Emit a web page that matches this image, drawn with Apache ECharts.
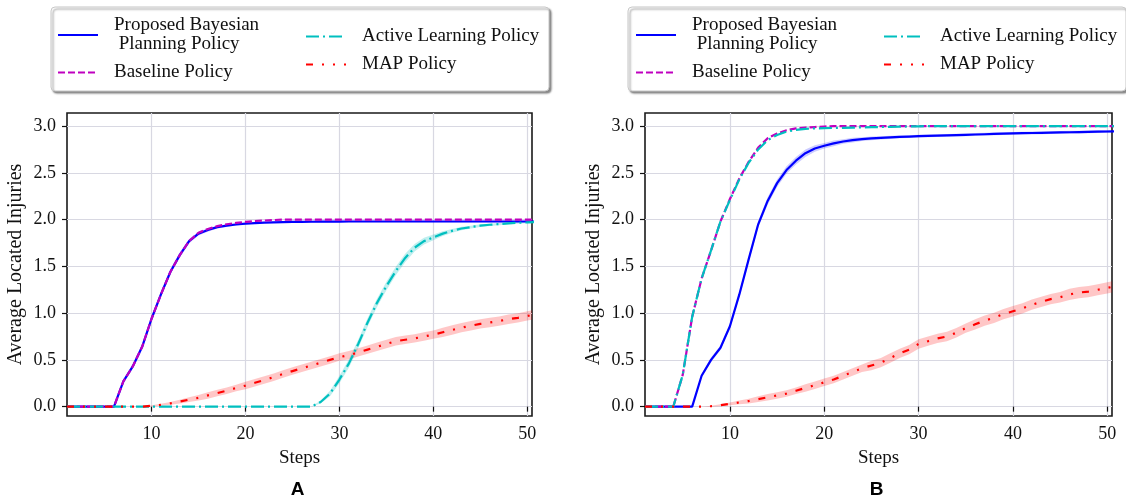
<!DOCTYPE html>
<html><head><meta charset="utf-8">
<script src="https://cdn.jsdelivr.net/npm/echarts@6/dist/echarts.min.js"></script>
<style>html,body{margin:0;padding:0;background:#fff}#c{width:1126px;height:502px}</style>
</head><body><div id="c"></div>
<script>
const steps = [1,2,3,4,5,6,7,8,9,10,11,12,13,14,15,16,17,18,19,20,21,22,23,24,25,26,27,28,29,30,31,32,33,34,35,36,37,38,39,40,41,42,43,44,45,46,47,48,49,50,51];
const xTicks = [10,20,30,40,50];
const yTicks = [0,0.5,1,1.5,2,2.5,3];
const seriesNames = ['Proposed Bayesian Planning Policy','Baseline Policy','Active Learning Policy','MAP Policy'];
const panelLabels = ['A','B'];

// Panel A
const aProposed = [0,0,0,0,0,0,0.27,0.43,0.64,0.94,1.2,1.44,1.62,1.77,1.85,1.89,1.92,1.935,1.948,1.957,1.963,1.968,1.971,1.973,1.975,1.976,1.977,1.978,1.978,1.979,1.98,1.98,1.98,1.98,1.98,1.98,1.98,1.98,1.98,1.98,1.98,1.98,1.98,1.98,1.98,1.98,1.98,1.98,1.98,1.98,1.98];
const aBaseline = [0,0,0,0,0,0,0.27,0.43,0.64,0.94,1.2,1.44,1.62,1.77,1.86,1.9,1.93,1.95,1.965,1.976,1.985,1.99,1.995,2,2,2,2,2,2,2,2,2,2,2,2,2,2,2,2,2,2,2,2,2,2,2,2,2,2,2,2];
const aActive = [0,0,0,0,0,0,0,0,0,0,0,0,0,0,0,0,0,0,0,0,0,0,0,0,0,0,0,0.05,0.14,0.29,0.46,0.67,0.9,1.11,1.29,1.45,1.59,1.7,1.77,1.81,1.85,1.88,1.905,1.92,1.935,1.945,1.953,1.96,1.966,1.97,1.973];
const aMap = [0,0,0,0,0,0,0,0,0,0.01,0.02,0.035,0.055,0.075,0.095,0.12,0.145,0.17,0.2,0.225,0.255,0.285,0.315,0.35,0.38,0.41,0.44,0.47,0.5,0.53,0.55,0.58,0.61,0.64,0.67,0.7,0.715,0.73,0.75,0.77,0.795,0.82,0.845,0.865,0.885,0.9,0.915,0.935,0.95,0.97,0.99];
const aProposedBand = [0,0,0,0,0,0,0.02,0.025,0.03,0.03,0.03,0.03,0.03,0.025,0.02,0.02,0.015,0.015,0.012,0.01,0.008,0.008,0.008,0.008,0.008,0.008,0.008,0.008,0.008,0.008,0.008,0.008,0.008,0.008,0.008,0.008,0.008,0.008,0.008,0.008,0.008,0.008,0.008,0.008,0.008,0.008,0.008,0.008,0.008,0.008,0.008];
const aActiveBand = [0,0,0,0,0,0,0,0,0,0,0,0,0,0,0,0,0,0,0,0,0,0,0,0,0,0,0,0.015,0.03,0.04,0.045,0.045,0.045,0.045,0.045,0.045,0.045,0.04,0.035,0.03,0.025,0.02,0.02,0.015,0.015,0.012,0.012,0.01,0.01,0.01,0.01];
const aMapBand = [0,0,0,0,0,0,0,0,0,0.005,0.01,0.015,0.02,0.025,0.03,0.035,0.035,0.035,0.035,0.04,0.04,0.04,0.04,0.04,0.04,0.04,0.04,0.04,0.04,0.04,0.045,0.045,0.045,0.045,0.045,0.045,0.045,0.045,0.045,0.045,0.05,0.05,0.05,0.05,0.05,0.05,0.05,0.05,0.05,0.05,0.05];

// Panel B
const bProposed = [0,0,0,0,0,0,0.33,0.5,0.63,0.86,1.2,1.58,1.95,2.2,2.39,2.53,2.63,2.71,2.76,2.79,2.815,2.835,2.85,2.86,2.868,2.874,2.879,2.884,2.888,2.892,2.895,2.898,2.901,2.904,2.907,2.91,2.913,2.916,2.919,2.922,2.924,2.926,2.928,2.93,2.932,2.934,2.936,2.938,2.94,2.942,2.944];
const bBaseline = [0,0,0,0,0.34,0.96,1.37,1.67,1.98,2.22,2.44,2.62,2.77,2.87,2.92,2.955,2.975,2.985,2.99,2.995,3,3,3,3,3,3,3,3,3,3,3,3,3,3,3,3,3,3,3,3,3,3,3,3,3,3,3,3,3,3,3];
const bActive = [0,0,0,0,0.34,0.96,1.37,1.67,1.98,2.21,2.43,2.61,2.75,2.85,2.905,2.94,2.96,2.97,2.975,2.978,2.98,2.982,2.984,2.986,2.988,2.99,2.992,2.994,2.996,2.998,3,3,3,3,3,3,3,3,3,3,3,3,3,3,3,3,3,3,3,3,3];
const bMap = [0,0,0,0,0,0,0,0.005,0.015,0.03,0.045,0.06,0.08,0.1,0.12,0.14,0.17,0.2,0.23,0.26,0.29,0.33,0.37,0.41,0.44,0.47,0.52,0.57,0.61,0.67,0.7,0.73,0.75,0.79,0.84,0.88,0.92,0.95,0.99,1.02,1.05,1.09,1.12,1.15,1.17,1.2,1.22,1.23,1.25,1.27,1.29];
const bProposedBand = [0,0,0,0,0,0,0.02,0.025,0.025,0.025,0.03,0.03,0.035,0.04,0.04,0.04,0.04,0.04,0.035,0.03,0.03,0.025,0.025,0.02,0.02,0.018,0.018,0.015,0.015,0.015,0.015,0.015,0.015,0.015,0.015,0.015,0.015,0.015,0.015,0.015,0.015,0.015,0.015,0.015,0.015,0.015,0.015,0.015,0.015,0.015,0.015];
const bMapBand = [0,0,0,0,0,0,0,0.005,0.01,0.015,0.02,0.025,0.03,0.035,0.035,0.035,0.035,0.04,0.04,0.04,0.04,0.04,0.04,0.04,0.05,0.05,0.05,0.05,0.05,0.05,0.05,0.05,0.05,0.05,0.05,0.055,0.055,0.055,0.055,0.055,0.055,0.055,0.055,0.055,0.055,0.06,0.06,0.06,0.06,0.06,0.06];

const colors = ['#0000ff','#bf00bf','#00bfbf','#ff0000'];
const dashes = ['solid',[7,3],[13,4,2,4],[7,9,2,9,2,9]];
const bandColors = ['rgba(110,40,255,0.22)', null, 'rgba(0,191,191,0.25)', 'rgba(255,0,0,0.22)'];
const bandColorsB = ['rgba(0,0,255,0.2)', null, null, 'rgba(255,0,0,0.22)'];

const panels = [
  {means:[aProposed,aBaseline,aActive,aMap], bands:[aProposedBand,null,aActiveBand,aMapBand], bandColors:bandColors},
  {means:[bProposed,bBaseline,bActive,bMap], bands:[bProposedBand,null,null,bMapBand], bandColors:bandColorsB}
];

const serif = 'Liberation Serif';
const grids = [
  {left:67, top:113, width:465, height:303},
  {left:645, top:113, width:467, height:303}
];

function bandRenderer(mean, half, color) {
  return function (params, api) {
    if (params.dataIndex !== 0) return null;
    const pts = [];
    for (let i = 0; i < steps.length; i++) pts.push(api.coord([steps[i], mean[i] - half[i]]));
    for (let i = steps.length - 1; i >= 0; i--) pts.push(api.coord([steps[i], mean[i] + half[i]]));
    return {type:'polygon', shape:{points:pts}, style:{fill:color}, silent:true};
  };
}

const series = [];
panels.forEach((p, gi) => {
  p.bands.forEach((half, si) => {
    if (!half) return;
    const mean = p.means[si];
    series.push({type:'custom', name:'band' + gi + '_' + si, xAxisIndex:gi, yAxisIndex:gi, coordinateSystem:'cartesian2d',
      clip:true, silent:true, z:1,
      data: mean.map((m,i)=>[steps[i], m - half[i], m + half[i]]),
      encode:{x:0, y:[1,2]},
      renderItem: bandRenderer(mean, half, p.bandColors[si])});
  });
  p.means.forEach((mean, si) => {
    series.push({type:'line', name:seriesNames[si], xAxisIndex:gi, yAxisIndex:gi,
      data: mean.map((m,i)=>[steps[i], m]), symbol:'none', showSymbol:false, clip:true,
      lineStyle:{color:colors[si], width:2.2, type:dashes[si]}, itemStyle:{color:colors[si]}, z:2+si});
  });
});

const axisFont = {fontFamily:serif, fontSize:18, color:'#111'};
const xAxes = grids.map((g,gi)=>({type:'value', gridIndex:gi, min:1, max:50.5,
  axisLine:{show:false},
  axisTick:{show:true, inside:false, length:5, customValues:xTicks, lineStyle:{color:'#111', width:1.2}},
  axisLabel:Object.assign({customValues:xTicks, margin:9}, axisFont),
  splitLine:{show:true, lineStyle:{color:'#d8d8e2', width:1.2}},
  name:'Steps', nameLocation:'middle', nameGap:33, nameTextStyle:{fontFamily:serif, fontSize:19, color:'#111'}}));
const yAxes = grids.map((g,gi)=>({type:'value', gridIndex:gi, min:-0.1, max:3.14,
  axisLine:{show:false},
  axisTick:{show:true, inside:false, length:5, customValues:yTicks, lineStyle:{color:'#111', width:1.2}},
  axisLabel:Object.assign({customValues:yTicks, margin:11, formatter:v=>v.toFixed(1)}, axisFont),
  splitLine:{show:true, lineStyle:{color:'#d8d8e2', width:1.2}},
  name:'Average Located Injuries', nameLocation:'middle', nameGap:41, nameTextStyle:{fontFamily:serif, fontSize:20, color:'#111'}}));

const legendBase = {orient:'vertical', padding:0, itemWidth:40, itemHeight:14, itemGap:9, selectedMode:false,
  itemStyle:{opacity:0},
  textStyle:{fontFamily:serif, fontSize:19, color:'#111', lineHeight:19, padding:[0,0,0,11]},
  formatter: n => n === seriesNames[0] ? 'Proposed Bayesian\n Planning Policy' : n};
const legendX = [57, 635];
const legends = [];
legendX.forEach(x => {
  legends.push(Object.assign({}, legendBase, {left:x, top:16, data:[seriesNames[0], seriesNames[1]]}));
  legends.push(Object.assign({}, legendBase, {left:x+248, top:27, data:[seriesNames[2], seriesNames[3]]}));
});

const boxX = [51, 628];
const graphics = [];
boxX.forEach((x, i) => {
  graphics.push({type:'rect', z:0, shape:{x:x, y:7, width:498, height:84, r:4},
    style:{fill:'#fff', stroke:'#c8c8c8', lineWidth:1, shadowBlur:2, shadowOffsetX:2, shadowOffsetY:2, shadowColor:'rgba(0,0,0,0.45)'}});
});
grids.forEach((g, i) => {
  graphics.push({type:'text', z:10, x:g.left + g.width/2 - 2, y:490,
    style:{text:panelLabels[i], font:'bold 19px "Liberation Sans"', fill:'#000', textAlign:'center', textVerticalAlign:'middle'}});
});

const chart = echarts.init(document.getElementById('c'), null, {renderer:'canvas'});
chart.setOption({
  animation:false,
  backgroundColor:'#fff',
  grid: grids.map(g => Object.assign({show:true, borderColor:'#1a1a1a', borderWidth:1.6, backgroundColor:'transparent'}, g)),
  xAxis: xAxes,
  yAxis: yAxes,
  legend: legends,
  graphic: graphics,
  series: series
});
</script></body></html>
